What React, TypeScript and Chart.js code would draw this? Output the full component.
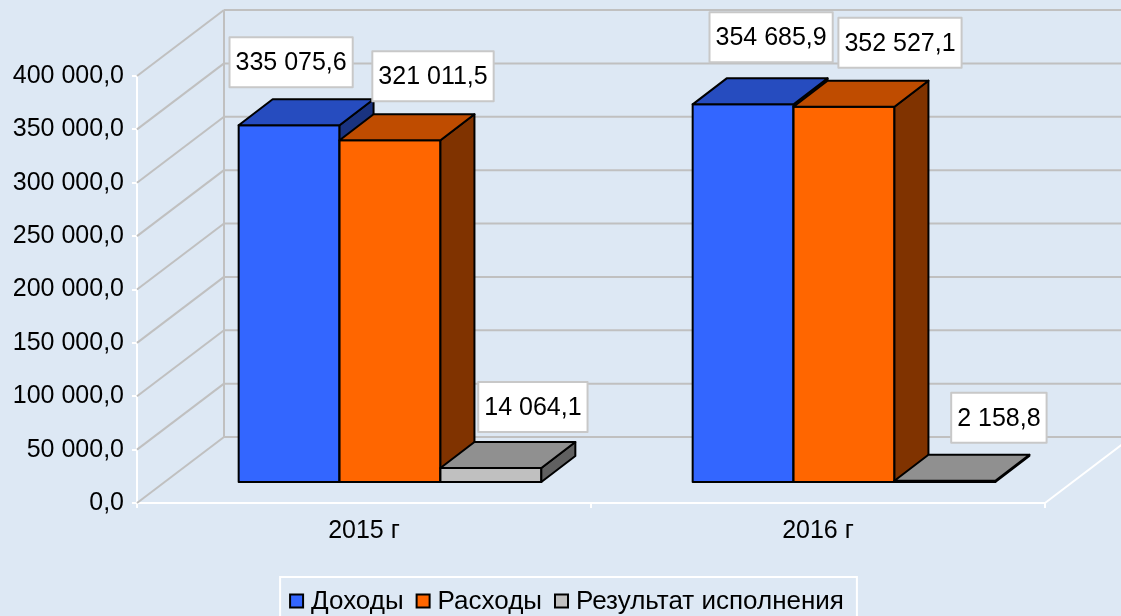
import React, { useEffect, useRef } from "react";
import { Chart, registerables } from "chart.js";

Chart.register(...registerables);

// ---------- data ----------
const categories = ["2015 г", "2016 г"];
const seriesNames = ["Доходы", "Расходы", "Результат исполнения"];
const incomeValues = [335075.6, 354685.9];
const expenseValues = [321011.5, 352527.1];
const resultValues = [14064.1, 2158.8];
const yMin = 0;
const yMax = 400000;
const yStep = 50000;

// ---------- styles / layout ----------
const FONT_FAMILY = '"Liberation Sans", Arial, Helvetica, sans-serif';
const FONT_SIZE = 25;
const LEGEND_FONT_SIZE = 26;
const BG = "#DDE8F4";
const FRONT = ["#3366FF", "#FF6600", "#C0C0C0"];
const TOP = ["#264CBF", "#BF4C00", "#909090"];
const SIDE = ["#1A3380", "#803300", "#606060"];
const WALL_DX = 87;
const WALL_DY = -66;
const BAR_DX0 = 26;
const BAR_DY0 = -20;
const BAR_DX = 34;
const BAR_DY = -26;
// label box centre offsets relative to bar front-top centre: [series][category] = [dx, dy]
const LABEL_OFFSETS = [
  [[2, -63], [28, -67]],
  [[43, -64], [56, -64]],
  [[42, -61], [54, -63]],
];

function fmt(v: number): string {
  const [i, d] = Number(v).toFixed(1).split(".");
  return i.replace(/\B(?=(\d{3})+(?!\d))/g, " ") + "," + d;
}

function poly(ctx: CanvasRenderingContext2D, pts: number[][], fill: string) {
  ctx.beginPath();
  ctx.moveTo(pts[0][0], pts[0][1]);
  for (let k = 1; k < pts.length; k++) ctx.lineTo(pts[k][0], pts[k][1]);
  ctx.closePath();
  ctx.fillStyle = fill;
  ctx.fill();
  ctx.stroke();
}

function line(ctx: CanvasRenderingContext2D, x1: number, y1: number, x2: number, y2: number) {
  ctx.beginPath();
  ctx.moveTo(x1, y1);
  ctx.lineTo(x2, y2);
  ctx.stroke();
}

const threeDPlugin = {
  id: "threeD",
  beforeDraw(chart: any) {
    const ctx = chart.ctx;
    ctx.save();
    ctx.fillStyle = BG;
    ctx.fillRect(0, 0, chart.width, chart.height);
    ctx.restore();
  },
  beforeDatasetsDraw(chart: any) {
    const ctx: CanvasRenderingContext2D = chart.ctx;
    const ys = chart.scales.y;
    const a = chart.chartArea;
    ctx.save();
    ctx.strokeStyle = "#C0C0C0";
    ctx.lineWidth = 2;
    ys.ticks.forEach((t: any) => {
      const py = ys.getPixelForValue(t.value);
      line(ctx, a.left, py, a.left + WALL_DX, py + WALL_DY);
      line(ctx, a.left + WALL_DX, py + WALL_DY, a.right + WALL_DX, py + WALL_DY);
    });
    const topY = ys.getPixelForValue(yMax) + WALL_DY;
    const botY = ys.getPixelForValue(yMin) + WALL_DY;
    line(ctx, a.left + WALL_DX, topY, a.left + WALL_DX, botY);
    ctx.strokeStyle = "#FFFFFF";
    line(ctx, a.right, a.bottom, a.right + WALL_DX, a.bottom + WALL_DY);
    ctx.restore();
  },
  afterDatasetsDraw(chart: any) {
    const ctx: CanvasRenderingContext2D = chart.ctx;
    const nDs = chart.data.datasets.length;
    const nCat = chart.data.labels.length;
    ctx.save();
    ctx.strokeStyle = "#000000";
    ctx.lineWidth = 2;
    ctx.lineJoin = "round";
    for (let i = 0; i < nCat; i++) {
      for (let d = 0; d < nDs; d++) {
        const el: any = chart.getDatasetMeta(d).data[i];
        const p = el.getProps(["x", "y", "base", "width"], true);
        const L = p.x - p.width / 2 + BAR_DX0;
        const R = p.x + p.width / 2 + BAR_DX0;
        const T = p.y + BAR_DY0;
        const B = p.base + BAR_DY0;
        poly(ctx, [[L, T], [R, T], [R, B], [L, B]], FRONT[d]);
        poly(ctx, [[R, T], [R + BAR_DX, T + BAR_DY], [R + BAR_DX, B + BAR_DY], [R, B]], SIDE[d]);
        poly(ctx, [[L, T], [L + BAR_DX, T + BAR_DY], [R + BAR_DX, T + BAR_DY], [R, T]], TOP[d]);
      }
    }
    // data labels
    ctx.font = `${FONT_SIZE}px ${FONT_FAMILY}`;
    ctx.textAlign = "center";
    ctx.textBaseline = "middle";
    for (let d = 0; d < nDs; d++) {
      const meta = chart.getDatasetMeta(d);
      for (let i = 0; i < nCat; i++) {
        const el: any = meta.data[i];
        const p = el.getProps(["x", "y"], true);
        const txt = fmt(chart.data.datasets[d].data[i]);
        const [dx, dy] = LABEL_OFFSETS[d][i];
        const cx = p.x + BAR_DX0 + dx;
        const cy = p.y + BAR_DY0 + dy;
        const w = ctx.measureText(txt).width + 12;
        const h = 50;
        ctx.fillStyle = "#FFFFFF";
        ctx.strokeStyle = "#C8C8C8";
        ctx.lineWidth = 2;
        ctx.fillRect(cx - w / 2, cy - h / 2, w, h);
        ctx.strokeRect(cx - w / 2, cy - h / 2, w, h);
        ctx.fillStyle = "#000000";
        ctx.fillText(txt, cx, cy + 1);
      }
    }
    ctx.restore();
  },
  afterDraw(chart: any) {
    // legend
    const ctx: CanvasRenderingContext2D = chart.ctx;
    ctx.save();
    ctx.font = `${LEGEND_FONT_SIZE}px ${FONT_FAMILY}`;
    const marker = 13;
    const gapMT = 8;
    const gapItem = 13;
    const names = chart.data.datasets.map((ds: any) => ds.label);
    const widths = names.map((n: string) => ctx.measureText(n).width);
    const content =
      widths.reduce((s: number, w: number) => s + w, 0) +
      names.length * (marker + gapMT) +
      (names.length - 1) * gapItem;
    const cxL = 567;
    let x = cxL - content / 2;
    const boxL = x - 10;
    const boxR = x + content + 13;
    ctx.strokeStyle = "#FFFFFF";
    ctx.lineWidth = 2;
    ctx.strokeRect(boxL, 577, boxR - boxL, 60);
    const midY = 601;
    ctx.textAlign = "left";
    ctx.textBaseline = "middle";
    names.forEach((n: string, k: number) => {
      ctx.fillStyle = FRONT[k];
      ctx.fillRect(x, midY - 6.5, marker, marker);
      ctx.strokeStyle = "#000000";
      ctx.lineWidth = 2;
      ctx.strokeRect(x, midY - 6.5, marker, marker);
      ctx.fillStyle = "#000000";
      ctx.fillText(n, x + marker + gapMT, midY + 1);
      x += marker + gapMT + widths[k] + gapItem;
    });
    ctx.restore();
  },
};

export default function App() {
  const canvasRef = useRef<HTMLCanvasElement | null>(null);

  useEffect(() => {
    if (!canvasRef.current) return;
    const font = { family: FONT_FAMILY, size: FONT_SIZE };
    const values = [incomeValues, expenseValues, resultValues];
    const chart = new Chart(canvasRef.current, {
      type: "bar",
      data: {
        labels: categories,
        datasets: seriesNames.map((name, k) => ({
          label: name,
          data: values[k],
          backgroundColor: "rgba(0,0,0,0)",
          borderWidth: 0,
          categoryPercentage: 2 / 3,
          barPercentage: 1,
        })),
      },
      options: {
        responsive: false,
        animation: false,
        devicePixelRatio: 1,
        layout: { padding: { top: 76, right: 76, left: 0, bottom: 0 } },
        plugins: {
          legend: { display: false },
          tooltip: { enabled: false },
        },
        scales: {
          x: {
            grid: {
              display: true,
              drawOnChartArea: false,
              drawTicks: true,
              tickLength: 5,
              color: "#FFFFFF",
              lineWidth: 2,
              offset: true,
            },
            border: { display: true, color: "#FFFFFF", width: 2 },
            ticks: { color: "#000000", font, padding: 8, maxRotation: 0 },
            afterFit: (s: any) => {
              s.height = 113;
            },
          },
          y: {
            min: yMin,
            max: yMax,
            grid: {
              display: true,
              drawOnChartArea: false,
              drawTicks: true,
              tickLength: 5,
              color: "#FFFFFF",
              lineWidth: 2,
            },
            border: { display: true, color: "#FFFFFF", width: 2 },
            ticks: {
              stepSize: yStep,
              color: "#000000",
              font,
              padding: 8,
              callback: (v: any) => fmt(Number(v)),
            },
            afterFit: (s: any) => {
              s.width = 137;
            },
          },
        },
      } as any,
      plugins: [threeDPlugin],
    });
    return () => chart.destroy();
  }, []);

  return (
    <div
      style={{
        position: "absolute",
        left: 0,
        top: 0,
        width: 1121,
        height: 616,
        background: BG,
        overflow: "hidden",
      }}
    >
      <canvas ref={canvasRef} width={1121} height={616} style={{ display: "block" }} />
    </div>
  );
}
